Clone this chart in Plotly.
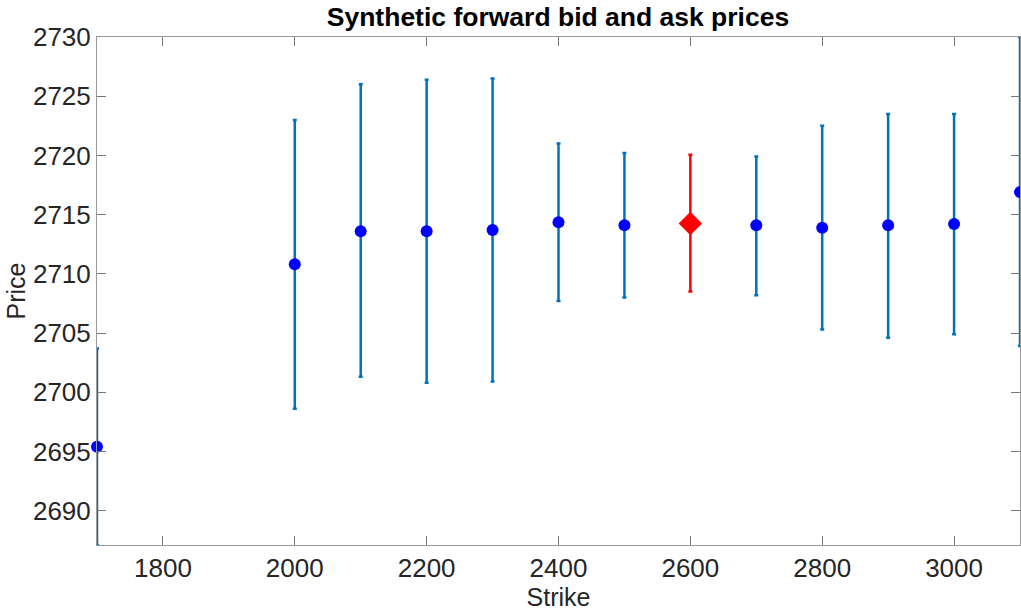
import plotly.graph_objects as go

# Strikes and synthetic forward bid / ask / mid prices
strikes = [1700, 2000, 2100, 2200, 2300, 2400, 2500, 2600, 2700, 2800, 2900, 3000, 3100]
mid = [2695.4, 2710.8, 2713.6, 2713.6, 2713.7, 2714.35, 2714.1, 2714.25, 2714.1, 2713.9, 2714.1, 2714.2, 2716.9]
bid = [2687.1, 2698.6, 2701.3, 2700.8, 2700.9, 2707.7, 2708.0, 2708.5, 2708.2, 2705.3, 2704.6, 2704.9, 2703.9]
ask = [2703.7, 2723.0, 2726.0, 2726.4, 2726.5, 2721.0, 2720.2, 2720.05, 2719.9, 2722.5, 2723.5, 2723.5, 2730.0]
highlight_strike = 2600

y_ticks = [2690, 2695, 2700, 2705, 2710, 2715, 2720, 2725, 2730]
x_ticks = [1800, 2000, 2200, 2400, 2600, 2800, 3000]

FONT = "Liberation Sans, Arial, sans-serif"
TXT = "#262626"

err_plus = [a - m for a, m in zip(ask, mid)]
err_minus = [m - b for m, b in zip(mid, bid)]

hi = strikes.index(highlight_strike)
rest = [i for i in range(len(strikes)) if i != hi]

fig = go.Figure()

# blue error bars (all strikes except the highlighted one)
fig.add_trace(go.Scatter(
    x=[strikes[i] for i in rest], y=[mid[i] for i in rest],
    mode="markers",
    marker=dict(size=1, color="rgba(0,0,0,0)"),
    error_y=dict(type="data", symmetric=False,
                 array=[err_plus[i] for i in rest],
                 arrayminus=[err_minus[i] for i in rest],
                 color="#0072BD", thickness=2.5, width=2),
    cliponaxis=False, showlegend=False, hoverinfo="skip",
))

# blue mid points
fig.add_trace(go.Scatter(
    x=[strikes[i] for i in rest], y=[mid[i] for i in rest],
    mode="markers",
    marker=dict(size=12, color="#0000FF"),
    cliponaxis=False, showlegend=False,
))

# highlighted strike in red
fig.add_trace(go.Scatter(
    x=[strikes[hi]], y=[mid[hi]],
    mode="markers",
    marker=dict(size=18, color="#FF0000", symbol="diamond"),
    error_y=dict(type="data", symmetric=False,
                 array=[err_plus[hi]], arrayminus=[err_minus[hi]],
                 color="#FF0000", thickness=2.5, width=2),
    cliponaxis=False, showlegend=False,
))

axis_common = dict(
    showgrid=False, zeroline=False,
    showline=True, linecolor="#999999", linewidth=1, mirror="ticks",
    ticks="inside", ticklen=9, tickcolor="#777777", tickwidth=1,
    tickfont=dict(family=FONT, size=26, color=TXT),
    automargin=False,
)

fig.update_layout(
    width=1021, height=615,
    margin=dict(l=97, r=1, t=37, b=70),
    paper_bgcolor="white", plot_bgcolor="white",
    title=dict(text="<b>Synthetic forward bid and ask prices</b>",
               x=0.5465, xanchor="center", y=0.972, yanchor="middle",
               font=dict(family=FONT, size=26.5, color="#000000")),
    xaxis=dict(axis_common, range=[1700, 3100], tickvals=x_ticks,
               title=dict(text="Strike", standoff=4,
                          font=dict(family=FONT, size=25, color=TXT))),
    yaxis=dict(axis_common, range=[2687.1, 2730.0], tickvals=y_ticks,
               title=dict(text="Price", standoff=0,
                          font=dict(family=FONT, size=25, color=TXT))),
)

fig.write_html("out.html", config={"displayModeBar": False},
               post_script="document.body.style.margin='0';")
